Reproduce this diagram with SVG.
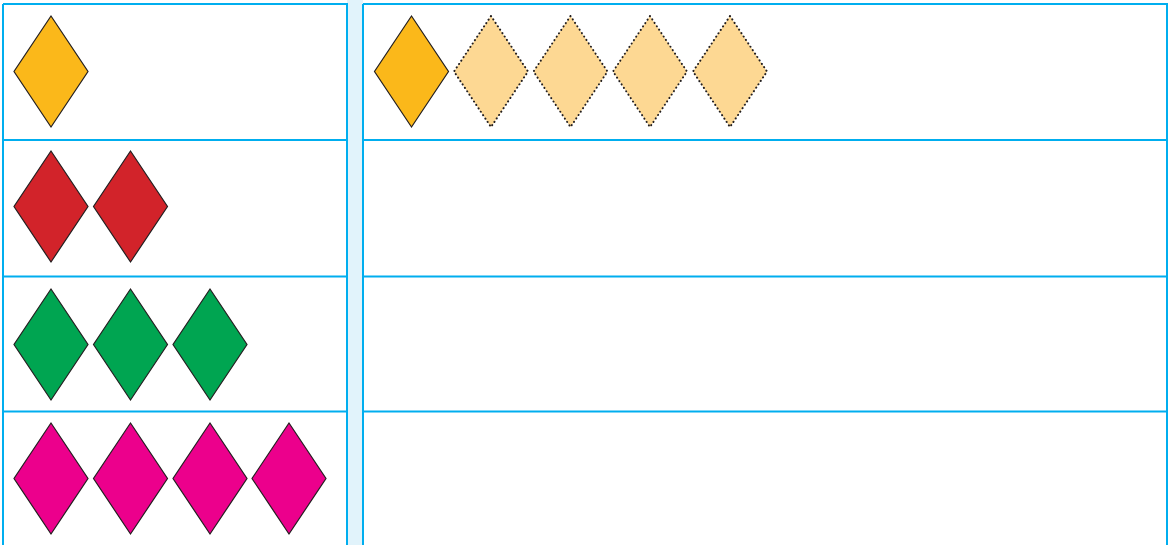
<svg xmlns="http://www.w3.org/2000/svg" width="1169" height="545" viewBox="0 0 1169 545">
<style>
.ln{stroke:#00aeef;stroke-width:2;fill:none}
.d{stroke:#231f20;stroke-width:1.2;stroke-linejoin:miter}
.y{fill:#fbb81a}.r{fill:#d2232a}.g{fill:#00a551}.m{fill:#ec008c}
.p{fill:#fdd893;stroke:#231f20;stroke-width:2;stroke-dasharray:0.1 4;stroke-linecap:round}
</style>
<defs>
<path id="dia" d="M0,-55.5 L37,0 L0,55.5 L-37,0 Z"/>
</defs>
<rect x="0" y="0" width="1169" height="545" fill="#fff"/>
<rect x="347" y="0" width="16" height="545" fill="#e1f3fb"/>
<g id="tables">
<path class="ln" d="M3,4 H347 V545 M3,4 V545 M3,140 H347 M3,276.5 H347 M3,411.5 H347"/>
<path class="ln" d="M363,4 H1167 V545 M363,4 V545 M363,140 H1167 M363,276.5 H1167 M363,411.5 H1167"/>
</g>
<g id="row1">
<use href="#dia" class="d y" x="51" y="71.5"/>
</g>
<g id="row2">
<use href="#dia" class="d r" x="51" y="206.5"/>
<use href="#dia" class="d r" x="130.5" y="206.5"/>
</g>
<g id="row3">
<use href="#dia" class="d g" x="51" y="344.5"/>
<use href="#dia" class="d g" x="130.5" y="344.5"/>
<use href="#dia" class="d g" x="210" y="344.5"/>
</g>
<g id="row4">
<use href="#dia" class="d m" x="51" y="478.5"/>
<use href="#dia" class="d m" x="130.5" y="478.5"/>
<use href="#dia" class="d m" x="210" y="478.5"/>
<use href="#dia" class="d m" x="289" y="478.5"/>
</g>
<g id="answer">
<use href="#dia" class="d y" x="411.5" y="71.5"/>
<use href="#dia" class="p" x="491" y="71.5"/>
<use href="#dia" class="p" x="570.5" y="71.5"/>
<use href="#dia" class="p" x="650" y="71.5"/>
<use href="#dia" class="p" x="730" y="71.5"/>
</g>
</svg>
